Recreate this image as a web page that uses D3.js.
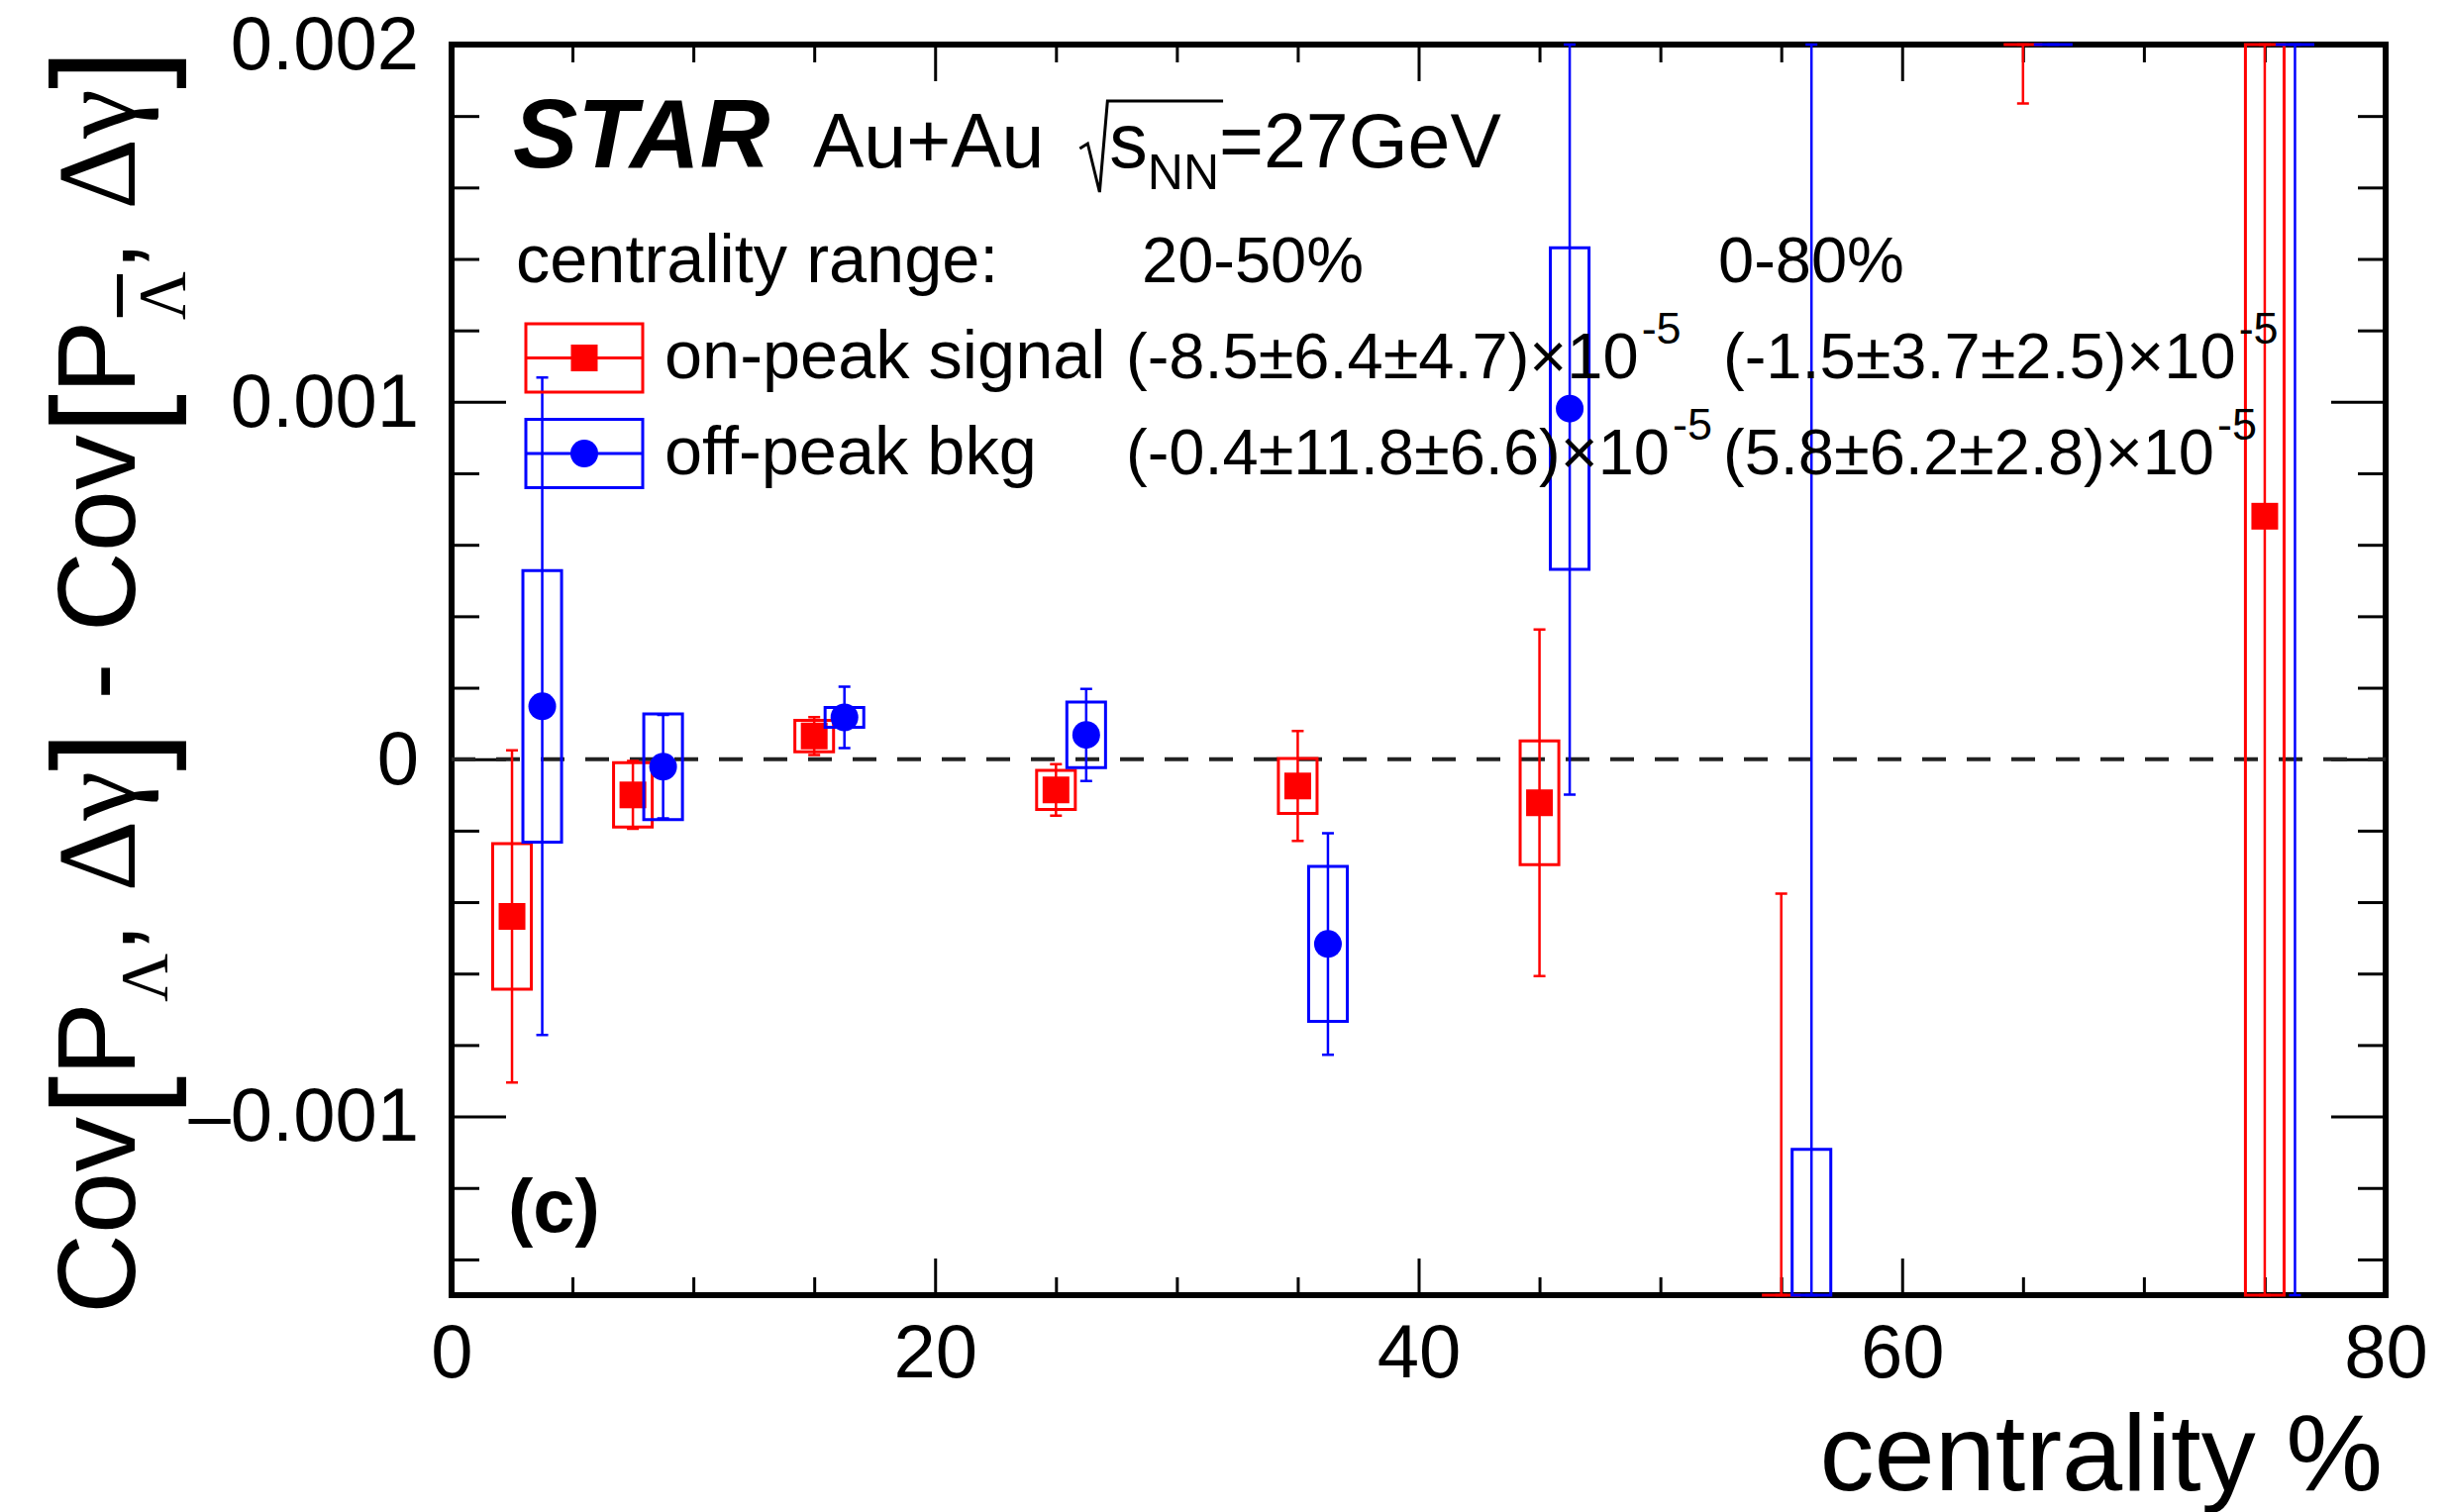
<!DOCTYPE html>
<html><head><meta charset="utf-8">
<script src="https://cdn.jsdelivr.net/npm/d3@7"></script>
<style>
body{margin:0;background:#fff;}
svg{display:block;}
text{font-family:"Liberation Sans", Arial, Helvetica, sans-serif;}
</style>
</head><body>
<svg id="c" width="2475" height="1527"></svg>
<script>
// ---------------- data ----------------
const signalX    = [2.5, 7.5, 15, 25, 35, 45, 55, 65, 75];
const signalY    = [-0.00044, -0.0001, 0.000065, -0.000086, -0.000075, -0.000122, -0.0025, 0.0031, 0.00068];
const signalStat = [0.000465, 0.000095, 0.000053, 0.000072, 0.000154, 0.000485, 0.002124, 0.001265, 0.0045];
const signalSys  = [0.000204, 0.00009, 0.000044, 0.000055, 0.000077, 0.000173, 0.0008, 0.0009, 0.0025];

const bkgX    = [3.75, 8.75, 16.25, 26.25, 36.25, 46.25, 56.25, 66.25, 76.25];
const bkgY    = [0.000148, -0.000021, 0.000117, 0.000068, -0.000517, 0.000981, -0.0019, 0.0035, 0.004];
const bkgStat = [0.00092, 0.000145, 0.000086, 0.000129, 0.00031, 0.00108, 0.0045, 0.0013, 0.0065];
const bkgSys  = [0.00038, 0.000148, 0.000028, 0.000092, 0.000217, 0.00045, 0.000808, 0.0012, 0.0015];

const xMajorTicks = [0, 20, 40, 60, 80];
const xTickLabels = ["0", "20", "40", "60", "80"];
const yMajorTicks = [-0.001, 0, 0.001, 0.002];
const yTickLabels = ["\u20130.001", "0", "0.001", "0.002"];

const legendNames  = ["on-peak signal", "off-peak bkg"];
const rangeLabels  = ["centrality range:", "20-50%", "0-80%"];
const fit2050      = ["(-8.5\u00b16.4\u00b14.7)\u00d710", "(-0.4\u00b111.8\u00b16.6)\u00d710"];
const fit080       = ["(-1.5\u00b13.7\u00b12.5)\u00d710", "(5.8\u00b16.2\u00b12.8)\u00d710"];
const fitExponent  = "-5";

// ---------------- setup ----------------
const svg = d3.select("#c");
const L = 456, R = 2409, T = 45, B = 1308;
const x = d3.scaleLinear().domain([0, 80]).range([L, R]);
const y = d3.scaleLinear().domain([-0.0015, 0.002]).range([B, T]);
const [yLo, yHi] = y.domain();
const clampV = v => Math.max(yLo, Math.min(yHi, v));

const xMinor = d3.range(0, 81, 5).filter(v => v % 20 !== 0);
const yMinor = d3.range(-14, 21, 2).filter(v => v % 10 !== 0).map(v => v * 1e-4);

const FONT = '"Liberation Sans", Arial, Helvetica, sans-serif';

// frame
svg.append("rect").attr("x", L).attr("y", T).attr("width", R - L).attr("height", B - T)
  .attr("fill", "none").attr("stroke", "#000").attr("stroke-width", 6);

function styleAxis(g) {
  g.select(".domain").remove();
  g.selectAll(".tick line").attr("stroke", "#000").attr("stroke-width", 3);
  g.attr("font-family", FONT).attr("font-size", 76);
  g.selectAll(".tick text").attr("fill", "#000");
}

// left axis
svg.append("g").attr("transform", `translate(${L},0)`)
  .call(d3.axisLeft(y).tickValues(yMajorTicks).tickSizeInner(-55).tickSizeOuter(0).tickPadding(33)
    .tickFormat((d, i) => yTickLabels[i])).call(styleAxis);
svg.append("g").attr("transform", `translate(${L},0)`)
  .call(d3.axisLeft(y).tickValues(yMinor).tickSizeInner(-28).tickSizeOuter(0).tickFormat("")).call(styleAxis);
// right axis
svg.append("g").attr("transform", `translate(${R},0)`)
  .call(d3.axisRight(y).tickValues(yMajorTicks).tickSizeInner(-55).tickSizeOuter(0).tickFormat("")).call(styleAxis);
svg.append("g").attr("transform", `translate(${R},0)`)
  .call(d3.axisRight(y).tickValues(yMinor).tickSizeInner(-28).tickSizeOuter(0).tickFormat("")).call(styleAxis);
// bottom axis
svg.append("g").attr("transform", `translate(0,${B})`)
  .call(d3.axisBottom(x).tickValues(xMajorTicks).tickSizeInner(-37).tickSizeOuter(0).tickPadding(29)
    .tickFormat((d, i) => xTickLabels[i])).call(styleAxis);
svg.append("g").attr("transform", `translate(0,${B})`)
  .call(d3.axisBottom(x).tickValues(xMinor).tickSizeInner(-18).tickSizeOuter(0).tickFormat("")).call(styleAxis);
// top axis
svg.append("g").attr("transform", `translate(0,${T})`)
  .call(d3.axisTop(x).tickValues(xMajorTicks).tickSizeInner(-37).tickSizeOuter(0).tickFormat("")).call(styleAxis);
svg.append("g").attr("transform", `translate(0,${T})`)
  .call(d3.axisTop(x).tickValues(xMinor).tickSizeInner(-18).tickSizeOuter(0).tickFormat("")).call(styleAxis);

// zero dashed line
svg.append("line").attr("x1", L).attr("x2", R).attr("y1", y(0)).attr("y2", y(0))
  .attr("stroke", "#222").attr("stroke-width", 4).attr("stroke-dasharray", "24,21");

// ---------------- data marks ----------------
const boxHalf = 0.8;   // in centrality units
const capHalf = 6;
const series = [
  {xs: signalX, vs: signalY, st: signalStat, sy: signalSys, color: "#ff0000", marker: "square"},
  {xs: bkgX, vs: bkgY, st: bkgStat, sy: bkgSys, color: "#0000ff", marker: "circle"}
];

series.forEach(s => {
  const g = svg.append("g");
  const pts = s.xs.map((xv, i) => ({xv, v: s.vs[i], st: s.st[i], sy: s.sy[i]}));
  g.selectAll("path.box").data(pts).join("path").attr("class", "box")
    .attr("d", d => {
      const p = d3.path();
      const x0 = x(d.xv - boxHalf), x1 = x(d.xv + boxHalf);
      const yt = y(clampV(d.v + d.sy)), yb = y(clampV(d.v - d.sy));
      p.moveTo(x0, yt); p.lineTo(x1, yt); p.lineTo(x1, yb); p.lineTo(x0, yb); p.closePath();
      return p.toString();
    })
    .attr("fill", "none").attr("stroke", s.color).attr("stroke-width", 3);
  g.selectAll("path.err").data(pts).join("path").attr("class", "err")
    .attr("d", d => {
      const p = d3.path();
      const xc = x(d.xv);
      const yt = y(clampV(d.v + d.st)), yb = y(clampV(d.v - d.st));
      p.moveTo(xc, yt); p.lineTo(xc, yb);
      p.moveTo(xc - capHalf, yt); p.lineTo(xc + capHalf, yt);
      p.moveTo(xc - capHalf, yb); p.lineTo(xc + capHalf, yb);
      return p.toString();
    })
    .attr("fill", "none").attr("stroke", s.color).attr("stroke-width", 2.5);
  const inside = pts.filter(d => d.v >= yLo && d.v <= yHi);
  if (s.marker === "square") {
    g.selectAll("rect.m").data(inside).join("rect").attr("class", "m")
      .attr("x", d => x(d.xv) - 13.5).attr("y", d => y(d.v) - 13.5)
      .attr("width", 27).attr("height", 27).attr("fill", s.color);
  } else {
    g.selectAll("circle.m").data(inside).join("circle").attr("class", "m")
      .attr("cx", d => x(d.xv)).attr("cy", d => y(d.v)).attr("r", 14).attr("fill", s.color);
  }
});

// ---------------- legend ----------------
const legRows = [361.5, 458];
const legText = svg.append("g").attr("font-family", FONT).attr("font-size", 65).attr("fill", "#000");
legText.append("text").attr("x", 521).attr("y", 285).attr("font-size", 68.5).text(rangeLabels[0]);
legText.append("text").attr("x", 1153).attr("y", 285).text(rangeLabels[1]);
legText.append("text").attr("x", 1735).attr("y", 285).text(rangeLabels[2]);

series.forEach((s, i) => {
  const cy = legRows[i];
  svg.append("rect").attr("x", 531).attr("y", cy - 34.5).attr("width", 118).attr("height", 69)
    .attr("fill", "none").attr("stroke", s.color).attr("stroke-width", 3);
  svg.append("line").attr("x1", 531).attr("x2", 649).attr("y1", cy).attr("y2", cy)
    .attr("stroke", s.color).attr("stroke-width", 3);
  if (s.marker === "square") {
    svg.append("rect").attr("x", 590 - 13.5).attr("y", cy - 13.5).attr("width", 27).attr("height", 27).attr("fill", s.color);
  } else {
    svg.append("circle").attr("cx", 590).attr("cy", cy).attr("r", 14).attr("fill", s.color);
  }
  const base = cy + 20.5;
  legText.append("text").attr("x", 671).attr("y", base).attr("font-size", 68.5).text(legendNames[i]);
  [[1137, fit2050[i]], [1740, fit080[i]]].forEach(([xx, str]) => {
    const t = legText.append("text").attr("x", xx).attr("y", base);
    t.append("tspan").text(str);
    t.append("tspan").attr("font-size", 45).attr("dy", -35).attr("dx", 3).text(fitExponent);
  });
});

// ---------------- STAR label ----------------
svg.append("text").attr("x", 518).attr("y", 169).attr("font-family", FONT)
  .attr("font-size", 98).attr("font-weight", "bold").attr("font-style", "italic").text("STAR");
const t1 = svg.append("text").attr("x", 821).attr("y", 169).attr("font-family", FONT).attr("font-size", 77).text("Au+Au");
const auEnd = 821 + t1.node().getComputedTextLength();
const radX = auEnd + 36;
const t2 = svg.append("text").attr("x", radX + 30).attr("y", 169).attr("font-family", FONT).attr("font-size", 77);
t2.append("tspan").text("s");
const nn = t2.append("tspan").attr("font-size", 50).attr("dy", 22).text("NN");
t2.append("tspan").attr("dy", -22).text("=27GeV");
const sLen = t2.select("tspan").node().getComputedTextLength() + nn.node().getComputedTextLength();
svg.append("path")
  .attr("d", `M${radX},150 L${radX + 8},145 L${radX + 20},194 L${radX + 28},102 L${radX + 30 + sLen + 4},102`)
  .attr("fill", "none").attr("stroke", "#000").attr("stroke-width", 3);

// (c)
svg.append("text").attr("x", 513).attr("y", 1244).attr("font-family", FONT)
  .attr("font-size", 76).attr("font-weight", "bold").text("(c)");

// x title
svg.append("text").attr("x", 2406).attr("y", 1505).attr("text-anchor", "end")
  .attr("font-family", FONT).attr("font-size", 110).text("centrality %");

// y title
const ytg = svg.append("g").attr("transform", "translate(136,688) rotate(-90)");
const yt = ytg.append("text").attr("text-anchor", "middle").attr("font-family", FONT).attr("font-size", 112);
const GREEK = '"Liberation Serif", "Times New Roman", serif';
const parts = [
  {t: "Cov"},
  {t: "[", fs: 148, dy: 21},
  {t: "P", dy: -21},
  {t: "\u039b", fs: 68, dy: 32, g: true},
  {t: ", ", dy: -32},
  {t: "\u0394\u03b3", g: true},
  {t: "]", fs: 148, dy: 21},
  {t: " - Cov", dy: -21},
  {t: "[", fs: 148, dy: 21},
  {t: "P", dy: -21},
  {t: "\u039b", fs: 68, dy: 50, g: true, bar: true},
  {t: ", ", dy: -50},
  {t: "\u0394\u03b3", g: true},
  {t: "]", fs: 148, dy: 21}
];
let barSpan = null;
parts.forEach(p => {
  const ts = yt.append("tspan").text(p.t);
  if (p.fs) ts.attr("font-size", p.fs);
  if (p.dy) ts.attr("dy", p.dy);
  if (p.g) ts.attr("font-family", GREEK);
  if (p.bar) barSpan = ts;
});
if (barSpan) {
  const n = barSpan.node();
  const s0 = n.getStartPositionOfChar(0), e0 = n.getEndPositionOfChar(0);
  ytg.append("line").attr("x1", s0.x + 3).attr("x2", e0.x - 3).attr("y1", -15).attr("y2", -15)
    .attr("stroke", "#000").attr("stroke-width", 6);
}
</script>
</body></html>
